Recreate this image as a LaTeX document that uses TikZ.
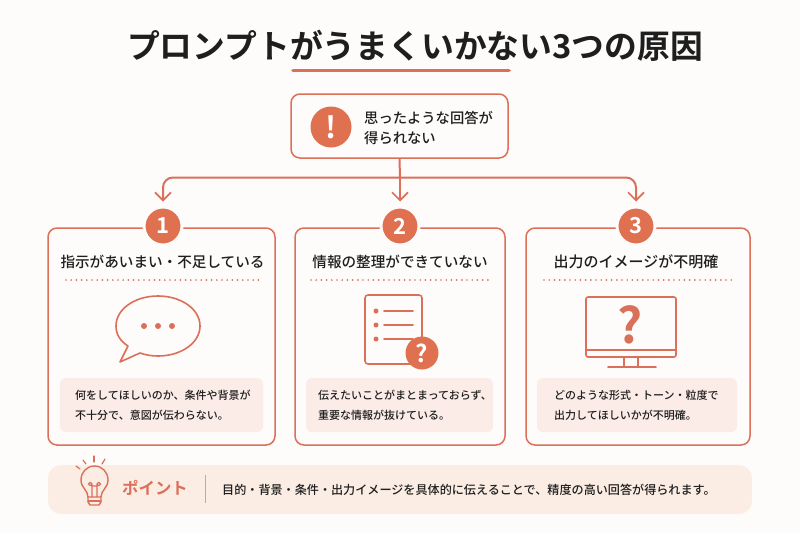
\documentclass[tikz,border=0pt]{standalone}
\usepackage{fontspec}
\setmainfont{Noto Sans CJK JP}[BoldFont={Noto Sans CJK JP Bold}]
\newfontfamily\medfont{Noto Sans CJK JP Medium}
\newcommand{\fsz}[2]{\fontsize{#1}{#2}\selectfont}
\definecolor{accent}{HTML}{DA7059}
\definecolor{badgefill}{HTML}{DF7050}
\definecolor{paper}{HTML}{FEFCFA}
\definecolor{softbox}{HTML}{FBECE7}
\definecolor{softbar}{HTML}{FBEDE3}
\definecolor{ink}{HTML}{1E1E1E}
\tikzset{
	outline/.style={draw=accent,line width=1.5pt,rounded corners=9pt,fill=paper,shape=rectangle},
	flow/.style={draw=accent,line width=2pt},
	flowtip/.style={-{Straight Barb[length=8pt,width=16pt,line width=1.7pt]}},
	badge/.style={shape=circle,fill=badgefill,draw=paper,line width=3pt,minimum size=38pt,inner sep=0pt,text=white,font=\bfseries\fsz{22}{22}},
	cardtitle/.style={text=ink,font=\medfont\fsz{14.6}{18},inner sep=0pt},
	cardtext/.style={shape=rectangle,fill=softbox,rounded corners=6pt,inner sep=0pt},
	bodytext/.style={text=ink,font=\medfont\fsz{11}{20},anchor=west,align=left,inner sep=0pt},
	dotline/.style={draw=accent,line width=1.9pt,line cap=round,dash pattern=on 0pt off 5.2pt},
	icon/.style={draw=accent,line width=1.6pt,line cap=round,line join=round},
	icondot/.style={shape=circle,fill=accent,minimum size=6pt,inner sep=0pt}
}
\usetikzlibrary{arrows.meta}
\begin{document}
\begin{tikzpicture}[x=1pt,y=-1pt]
	\useasboundingbox[fill=paper] (0,0) rectangle (800,533);

	\node[text=ink,font=\bfseries\fsz{32.8}{36},inner sep=0pt] (title) at (415,46) {プロンプトがうまくいかない3つの原因};
	\coordinate (ruleL) at (293,70.5);
	\coordinate (ruleR) at (509,70.5);
	\draw[draw=accent,line width=3.6pt,line cap=round] (ruleL) -- (ruleR);

	\node[outline,minimum width=217pt,minimum height=64pt] (alert) at (399.5,126) {};
	\node[shape=circle,fill=badgefill,minimum size=41pt,inner sep=0pt,text=white,font=\bfseries\fsz{30}{30}] (alertmark) at (331,127) {!};
	\node[bodytext,font=\medfont\fsz{14.3}{20.5}] (alerttext) at (364,128) {思ったような回答が\\得られない};

	\node[outline,minimum width=227pt,minimum height=217pt] (card1) at (161.5,336.5) {};
	\node[outline,minimum width=210pt,minimum height=217pt] (card2) at (400,336.5) {};
	\node[outline,minimum width=224pt,minimum height=217pt] (card3) at (638,336.5) {};

	\node[badge] (badge1) at (163,226) {1};
	\node[badge] (badge2) at (400,226) {2};
	\node[badge] (badge3) at (636,226) {3};

	\coordinate (fork) at (400,177.5);
	\draw[flow] (alert.south) -- (fork);
	\draw[flow,flowtip,rounded corners=10pt,shorten >=4pt] (fork) -| (badge1.north);
	\draw[flow,flowtip,shorten >=4pt] (fork) -- (badge2.north);
	\draw[flow,flowtip,rounded corners=10pt,shorten >=4pt] (fork) -| (badge3.north);

	\node[cardtitle] (title1) at (162.5,262) {指示があいまい・不足している};
	\node[cardtitle] (title2) at (400,262) {情報の整理ができていない};
	\node[cardtitle,font=\medfont\fsz{15}{18}] (title3) at (636,262) {出力のイメージが不明確};

	\coordinate (dots1L) at (66,280);
	\coordinate (dots1R) at (260,280);
	\coordinate (dots2L) at (311,280);
	\coordinate (dots2R) at (489,280);
	\coordinate (dots3L) at (544,280);
	\coordinate (dots3R) at (733,280);
	\draw[dotline] (dots1L) -- (dots1R);
	\draw[dotline] (dots2L) -- (dots2R);
	\draw[dotline] (dots3L) -- (dots3R);

	\node[cardtext,minimum width=203pt,minimum height=54pt] (soft1) at (161.5,405) {};
	\node[cardtext,minimum width=187pt,minimum height=54pt] (soft2) at (399.5,405) {};
	\node[cardtext,minimum width=200pt,minimum height=54pt] (soft3) at (637,405) {};

	\node[bodytext] (body1) at (75,405) {何をしてほしいのか、条件や背景が\\不十分で、意図が伝わらない。};
	\node[bodytext] (body2) at (318,405) {伝えたいことがまとまっておらず、\\重要な情報が抜けている。};
	\node[bodytext] (body3) at (554,405) {どのような形式・トーン・粒度で\\出力してほしいかが不明確。};

	\draw[icon] (128,346) .. controls (120,341) and (116,334) .. (116,326) .. controls (116,309) and (135,296) .. (158,296) .. controls (181,296) and (200,309) .. (200,326) .. controls (200,343) and (181,356) .. (158,356) .. controls (151,356) and (146,355) .. (140,353) -- (120,362) -- cycle;
	\node[icondot] (dot1) at (144,326) {};
	\node[icondot] (dot2) at (158,326) {};
	\node[icondot] (dot3) at (172,326) {};

	\draw[icon,rounded corners=3pt] (365,295) rectangle (422,364);
	\node[icondot,minimum size=5pt] (item1) at (376,311) {};
	\node[icondot,minimum size=5pt] (item2) at (376,325) {};
	\node[icondot,minimum size=5pt] (item3) at (376,339) {};
	\draw[icon] (384,311) -- (413,311);
	\draw[icon] (384,325) -- (413,325);
	\draw[icon] (384,339) -- (413,339);
	\node[shape=circle,fill=badgefill,minimum size=33pt,inner sep=0pt,text=white,font=\bfseries\fsz{24}{24}] (docmark) at (422,353) {?};

	\draw[icon,rounded corners=2pt] (586,297) rectangle (676,357);
	\draw[icon] (586,350) -- (676,350);
	\draw[icon] (624,357) -- (624,367);
	\draw[icon] (638,357) -- (638,367);
	\draw[icon] (608,367) -- (656,367);
	\node[text=accent,font=\bfseries\fsz{49}{49},inner sep=0pt] (screenmark) at (630,325) {?};

	\node[shape=rectangle,fill=softbar,rounded corners=13pt,minimum width=704pt,minimum height=49pt] (bar) at (400,489.5) {};
	\draw[icon,line width=1.4pt] (88,497) .. controls (88,490) and (81,488) .. (81,480) .. controls (81,472) and (87,466) .. (94.5,466) .. controls (102,466) and (108,472) .. (108,480) .. controls (108,488) and (101,490) .. (101,497) -- cycle;
	\draw[icon,line width=1.4pt] (88,497) -- (88,502) -- (90,505) -- (99,505) -- (101,502) -- (101,497);
	\draw[icon,line width=1.2pt] (88,501) -- (101,501);
	\draw[icon,line width=1.2pt] (92,497) -- (92,484) arc (0:360:1.8) (97,497) -- (97,484) arc (180:-180:1.8) (92,486) -- (97,486);
	\draw[icon,line width=1.2pt] (94,456) -- (94,462);
	\draw[icon,line width=1.2pt] (83,460) -- (86,464);
	\draw[icon,line width=1.2pt] (105,459) -- (102,464);
	\draw[icon,line width=1.2pt] (76,466) -- (80,469);
	\node[text=accent,font=\bfseries\fsz{16.4}{18},inner sep=0pt,anchor=west] (pointlabel) at (122,488) {ポイント};
	\coordinate (sepT) at (205,475);
	\coordinate (sepB) at (205,503);
	\draw[draw=accent!70,line width=0.9pt] (sepT) -- (sepB);
	\node[bodytext,font=\medfont\fsz{12.1}{14}] (pointtext) at (222,489.5) {目的・背景・条件・出力イメージを具体的に伝えることで、精度の高い回答が得られます。};
\end{tikzpicture}
\end{document}
